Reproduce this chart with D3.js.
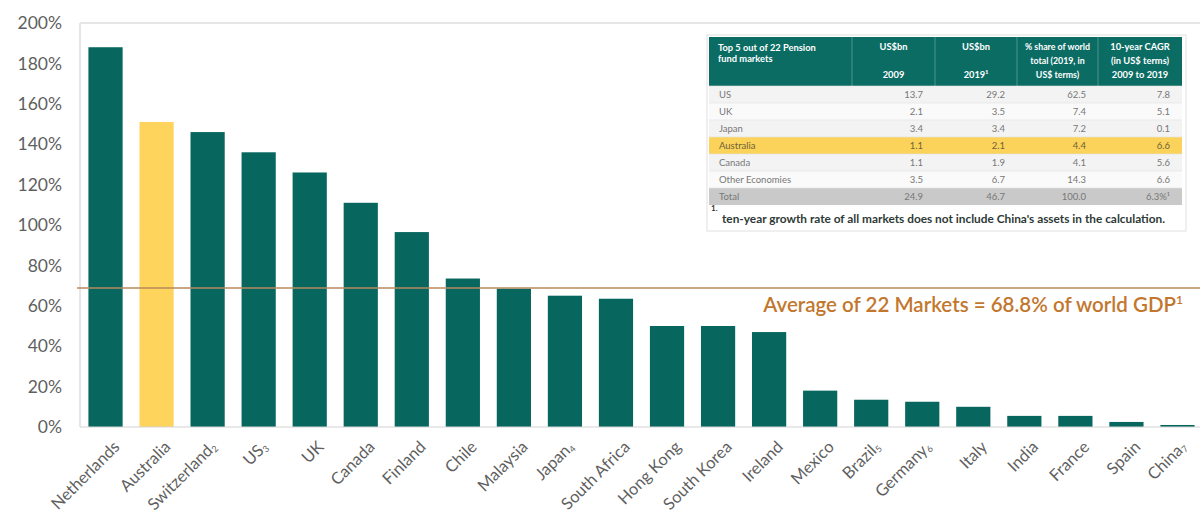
<!DOCTYPE html>
<html><head><meta charset="utf-8">
<script src="https://cdn.jsdelivr.net/npm/d3@7"></script>
<style>
body{margin:0;background:#fff;}
svg text{font-family:Lato,"Open Sans",sans-serif;}
</style></head>
<body><svg id="c" width="1200" height="529"></svg>
<script>
const countries = ["Netherlands","Australia","Switzerland","US","UK","Canada","Finland","Chile","Malaysia","Japan","South Africa","Hong Kong","South Korea","Ireland","Mexico","Brazil","Germany","Italy","India","France","Spain","China"];
const footnoteMarks = ["","","2","3","","","","","","4","","","","","","5","6","","","","","7"];
const values = [188,151,146,136,126,111,96.5,73.5,68.5,65,63.5,50,50,47,18,13.5,12.5,10,5.5,5.5,2.5,1];
const highlight = "Australia";
const yTicks = [0,20,40,60,80,100,120,140,160,180,200];
const average = 68.8;
const avgLabel = "Average of 22 Markets = 68.8% of world GDP";

const tableHeader = [["Top 5 out of 22 Pension","fund markets"],["US$bn","","2009"],["US$bn","","2019¹"],["% share of world","total (2019, in","US$ terms)"],["10-year CAGR","(in US$ terms)","2009 to 2019"]];
const tableRows = ["US","UK","Japan","Australia","Canada","Other Economies","Total"];
const col2009 = ["13.7","2.1","3.4","1.1","1.1","3.5","24.9"];
const col2019 = ["29.2","3.5","3.4","2.1","1.9","6.7","46.7"];
const colShare = ["62.5","7.4","7.2","4.4","4.1","14.3","100.0"];
const colCagr = ["7.8","5.1","0.1","6.6","5.6","6.6","6.3%¹"];
const tableNote = "ten-year growth rate of all markets does not include China's assets in the calculation.";

const svg = d3.select("#c");
const teal = "#07675f", gold = "#fed45c", grey = "#5f5f5f";
const m = {l:80, r:1203, t:23, b:427};

const x = d3.scaleBand().domain(countries).range([m.l, m.r]).paddingInner(0.33).paddingOuter(0.165);
const y = d3.scaleLinear().domain([0,200]).range([m.b, m.t]);

// frame
svg.append("line").attr("x1",m.l).attr("x2",1200).attr("y1",y(200)).attr("y2",y(200)).attr("stroke","#dedede").attr("stroke-width",1.5);
svg.append("line").attr("x1",m.l).attr("x2",m.l).attr("y1",y(200)).attr("y2",y(0)).attr("stroke","#dedede").attr("stroke-width",1.5);

// y axis labels
svg.append("g").selectAll("text").data(yTicks).join("text")
  .attr("x",62).attr("y",d=>y(d)).attr("dy","0.35em").attr("text-anchor","end")
  .attr("font-size",17.5).attr("fill",grey).text(d=>d+"%");

// bars
svg.append("g").selectAll("rect").data(countries).join("rect")
  .attr("x",d=>x(d)).attr("width",x.bandwidth())
  .attr("y",(d,i)=>y(values[i])).attr("height",(d,i)=>y(0)-y(values[i]))
  .attr("fill",d=>d===highlight?gold:teal);

// x axis line
svg.append("line").attr("x1",m.l).attr("x2",1200).attr("y1",y(0)).attr("y2",y(0)).attr("stroke","#d4d4d4").attr("stroke-width",1.2);

// x labels
const xl = svg.append("g").selectAll("text").data(countries).join("text")
  .attr("transform",(d,i)=>`translate(${x(d)+x.bandwidth()/2+(footnoteMarks[i]?10:15)},${y(0)+21}) rotate(-45)`)
  .attr("text-anchor","end").attr("font-size",16.5).attr("fill",grey);
xl.append("tspan").text(d=>d);
xl.append("tspan").attr("font-size",9).attr("dy",2).text((d,i)=>footnoteMarks[i]);

// average line
svg.append("line").attr("x1",m.l-3).attr("x2",1200).attr("y1",y(average)).attr("y2",y(average)).attr("stroke","#b7895d").attr("stroke-width",1.3);
const at = svg.append("text").attr("x",1183).attr("y",y(average)+24).attr("text-anchor","end")
  .attr("font-size",20.5).attr("font-weight",600).attr("fill","#c2772e");
at.append("tspan").text(avgLabel);
at.append("tspan").attr("font-size",12).attr("dy",-8).text("1");

// table
const tx = [709,852,935,1017,1098,1182];
const tTop = 37, hH = 49, rH = 17;
const tg = svg.append("g");
tg.append("rect").attr("x",tx[0]-2).attr("y",tTop-2).attr("width",tx[5]-tx[0]+6).attr("height",196).attr("fill","#fff").attr("stroke","#e0e0e0");
tg.append("rect").attr("x",tx[0]).attr("y",tTop).attr("width",tx[5]-tx[0]).attr("height",hH).attr("fill","#0b6c64");
tableHeader.forEach((lines,ci)=>{
  const cx = ci===0 ? tx[0]+9 : (tx[ci]+tx[ci+1])/2;
  const n = lines.length;
  lines.forEach((ln,li)=>{
    const yy = ci===0 ? tTop+11+li*11 : tTop+10+li*14;
    tg.append("text").attr("x",cx).attr("y",yy).attr("dy","0.35em")
      .attr("text-anchor",ci===0?"start":"middle").attr("font-size",ci===3?8.8:9.3).attr("font-weight",700)
      .attr("fill","#fff").text(ln);
  });
});
tg.append("g").selectAll("line").data(tx.slice(1,5)).join("line")
  .attr("x1",d=>d).attr("x2",d=>d).attr("y1",tTop).attr("y2",tTop+hH).attr("stroke","#5f9e98").attr("stroke-width",0.8);
const cols = [col2009,col2019,colShare,colCagr];
tableRows.forEach((r,ri)=>{
  const ry = tTop+hH+ri*rH;
  const fill = r===highlight ? "#fbd35a" : (r==="Total" ? "#c9c9c9" : (ri%2===0?"#f3f3f3":"#fafafa"));
  tg.append("rect").attr("x",tx[0]).attr("y",ry).attr("width",tx[5]-tx[0]).attr("height",rH).attr("fill",fill);
  tg.append("line").attr("x1",tx[0]).attr("x2",tx[5]).attr("y1",ry).attr("y2",ry).attr("stroke","#e2e2e2").attr("stroke-width",0.6);
  const tc = r===highlight ? "#6f6236" : "#777";
  tg.append("text").attr("x",tx[0]+10).attr("y",ry+rH/2).attr("dy","0.35em").attr("font-size",9.5).attr("fill",tc).text(r);
  cols.forEach((c,ci)=>{
    tg.append("text").attr("x",tx[ci+2]-12).attr("y",ry+rH/2).attr("dy","0.35em").attr("text-anchor","end")
      .attr("font-size",9.5).attr("fill",tc).text(c[ri]);
  });
});
tg.append("text").attr("x",711).attr("y",211).attr("font-size",8).attr("font-weight",700).attr("fill","#333").text("1.");
tg.append("text").attr("x",722).attr("y",223).attr("font-size",10.5).attr("font-weight",700).attr("fill","#2d3a36")
  .attr("textLength",443).attr("lengthAdjust","spacingAndGlyphs").text(tableNote);
</script></body></html>
